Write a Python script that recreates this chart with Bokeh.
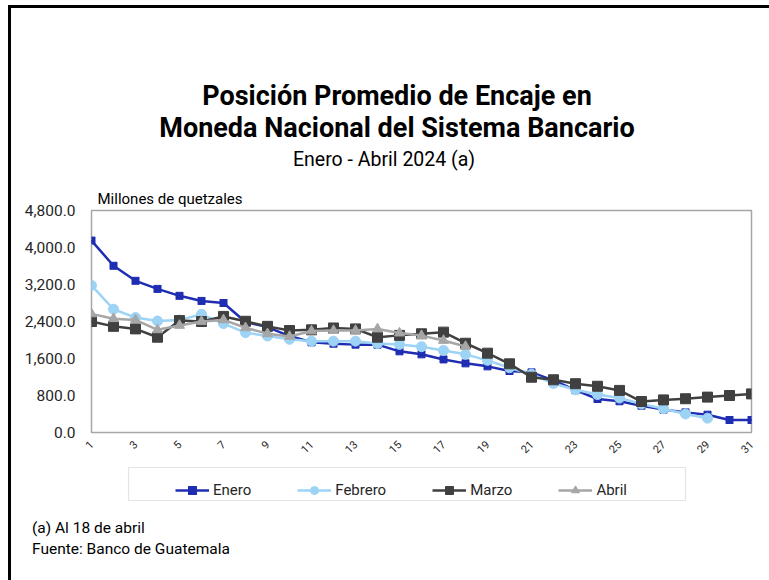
import math
from bokeh.plotting import figure
from bokeh.layouts import column
from bokeh.models import (Range1d, FixedTicker, NumeralTickFormatter, Label,
                          Legend, LegendItem, BoxAnnotation, Div)
from bokeh.embed import file_html
from bokeh.resources import INLINE

# ---------------- data ----------------
days = [1, 2, 3, 4, 5, 6, 7, 8, 9, 10, 11, 12, 13, 14, 15, 16, 17, 18, 19, 20,
        21, 22, 23, 24, 25, 26, 27, 28, 29, 30, 31]
enero = [4150, 3605, 3280, 3105, 2955, 2845, 2800, 2390, 2280, 2085,
         1950, 1920, 1900, 1900, 1755, 1690, 1580, 1495, 1430, 1330,
         1300, 1125, 915, 725, 675, 580, 495, 435, 385, 270, 270]
febrero = [3180, 2665, 2485, 2410, 2430, 2555, 2355, 2160, 2085, 2015,
           1975, 1975, 1975, 1925, 1905, 1855, 1775, 1690, 1560, 1400,
           1260, 1060, 925, 820, 745, 615, 515, 400, 310]
marzo = [2400, 2295, 2240, 2060, 2420, 2400, 2510, 2405, 2295, 2205,
         2220, 2260, 2240, 2060, 2100, 2135, 2170, 1930, 1715, 1485,
         1195, 1140, 1055, 1000, 910, 670, 705, 730, 765, 800, 835]
abril = [2565, 2460, 2435, 2220, 2315, 2400, 2435, 2265, 2135, 2075,
         2195, 2205, 2205, 2240, 2150, 2095, 1990, 1860]

series_names = ["Enero", "Febrero", "Marzo", "Abril"]
y_ticks = [0, 800, 1600, 2400, 3200, 4000, 4800]
x_ticks = [1, 3, 5, 7, 9, 11, 13, 15, 17, 19, 21, 23, 25, 27, 29, 31]

FONT = "Roboto"
W = 758
BL, BR = 80, 18          # left / right borders shared by all strips
HS, HP, HQ, HD = 174, 280, 48, 68
TOP = 28                 # room above the plot frame for the unit label

cols = {"Enero": "#1f2db3", "Febrero": "#9dd3f4", "Marzo": "#404040", "Abril": "#a6a6a6"}
data = {"Enero": enero, "Febrero": febrero, "Marzo": marzo, "Abril": abril}
markers = {"Enero": ("square_x", 7), "Febrero": ("circle", 10),
           "Marzo": ("square", 10), "Abril": ("triangle", 10)}


def strip(h):
    f = figure(width=W, height=h, output_backend="svg", toolbar_location=None,
               x_range=Range1d(BL, W - BR), y_range=Range1d(0, h),
               x_axis_type=None, y_axis_type=None,
               min_border_left=BL, min_border_right=BR,
               min_border_top=0, min_border_bottom=0)
    f.xgrid.visible = False
    f.ygrid.visible = False
    f.outline_line_color = None
    return f


def lab(fig, text, x, y, size, bold=False, align="center"):
    fig.add_layout(Label(x=x, y=y, text=text,
                         text_font=FONT, text_font_size=size,
                         text_font_style="bold" if bold else "normal",
                         text_align=align, text_baseline="middle",
                         text_color="black"))


# ---------------- title strip ----------------
s = strip(HS)
lab(s, "Posición Promedio de Encaje en", 385.5, HS - 87, "27px", bold=True)
lab(s, "Moneda Nacional del Sistema Bancario", 385.5, HS - 119, "27px", bold=True)
lab(s, "Enero -  Abril 2024 (a)", 375, HS - 151, "19.5px")

# ---------------- main chart ----------------
p = figure(width=W, height=HP, output_backend="svg", toolbar_location=None,
           x_range=Range1d(1, 31), y_range=Range1d(0, 4800),
           min_border_left=BL, min_border_right=BR,
           min_border_top=TOP, min_border_bottom=30)
p.title.text = "Millones de quetzales"
p.title.align = "left"
p.title.offset = 6
p.title.standoff = 5
p.title.text_font = FONT
p.title.text_font_style = "normal"
p.title.text_font_size = "15px"
p.title.text_color = "black"

p.xgrid.visible = False
p.ygrid.visible = False
p.outline_line_color = "#a6a6a6"
p.outline_line_width = 1.5

for ax in (p.xaxis[0], p.yaxis[0]):
    ax.axis_line_color = None
    ax.major_tick_line_color = None
    ax.minor_tick_line_color = None
    ax.major_label_text_font = FONT
    ax.major_label_text_color = "#262626"

p.yaxis.ticker = FixedTicker(ticks=y_ticks)
p.yaxis.formatter = NumeralTickFormatter(format="0,0.0")
p.yaxis.major_label_text_font_size = "15.5px"
p.yaxis.major_label_standoff = 10

p.xaxis.ticker = FixedTicker(ticks=x_ticks)
p.xaxis.major_label_orientation = math.pi / 4
p.xaxis.major_label_text_font_size = "11px"
p.xaxis.major_label_standoff = 4

for name in series_names:
    ys = data[name]
    xs = days[:len(ys)]
    p.line(xs, ys, line_color=cols[name], line_width=2.5)
    mk, sz = markers[name]
    p.scatter(xs, ys, marker=mk, size=sz, fill_color=cols[name], line_color=cols[name])

# ---------------- legend strip ----------------
q = strip(HQ)
items = []
for name in series_names:
    ys = data[name]
    xs = days[:len(ys)]
    mk, sz = markers[name]
    # same series, outside this strip's visible range: only feeds the legend
    r1 = q.line(xs, ys, line_color=cols[name], line_width=2.5)
    r2 = q.scatter(xs, ys, marker=mk, size=sz * 0.75, fill_color=cols[name],
                   line_color=cols[name])
    items.append(LegendItem(label=name, renderers=[r1, r2]))

legend = Legend(items=items, orientation="horizontal", location=(84, 10),
                spacing=46, glyph_width=34, glyph_height=20, label_standoff=4,
                padding=6, margin=0, border_line_color=None,
                background_fill_alpha=0,
                label_text_font=FONT, label_text_font_size="15px",
                label_text_color="#262626")
q.add_layout(legend, "center")
q.add_layout(BoxAnnotation(left=117, right=674, top=43, bottom=10,
                           fill_alpha=0, line_color="#a6a6a6", line_width=1.2))

# ---------------- notes ----------------
notes = Div(text="(a) Al 18 de abril<br>Fuente: Banco de Guatemala",
            width=W, height=HD,
            styles={"font-family": "Roboto", "font-size": "15.5px",
                    "line-height": "21px", "color": "black",
                    "padding-top": "3px", "padding-left": "16px",
                    "box-sizing": "border-box"})

layout = column(s, p, q, notes, spacing=0,
                styles={"margin-left": "8px", "margin-top": "5px",
                        "border-left": "3px solid black",
                        "border-top": "3px solid black"})

open("out.html", "w").write(file_html(layout, INLINE))
